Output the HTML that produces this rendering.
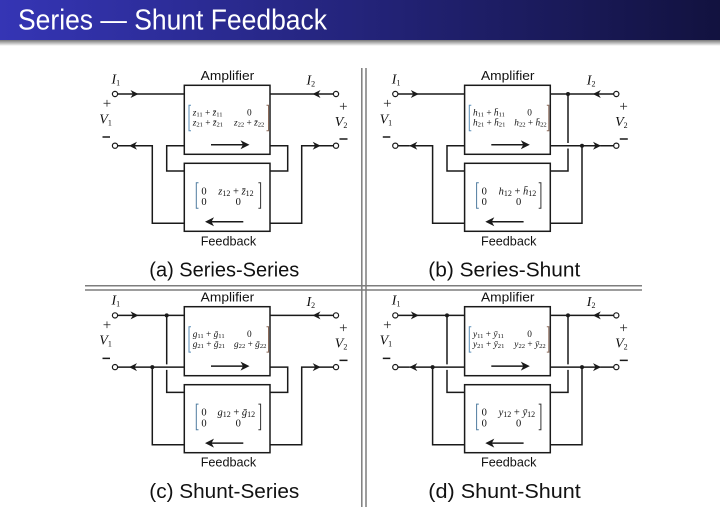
<!DOCTYPE html>
<html><head><meta charset="utf-8"><title>Series — Shunt Feedback</title>
<style>
html,body{margin:0;padding:0;background:#fff}
svg{display:block}
text{fill:#111;font-family:"Liberation Sans",sans-serif}
.m,.n,.l{font-family:"Liberation Serif",serif}
.m{font-size:9.3px}.n{font-size:10.5px}
.l{font-size:14px;font-style:italic}
.i{font-style:italic}
.s{font-size:6.6px}.t{font-size:8px}
.lab{font-size:13px}.cap{font-size:20.5px}
.w{fill:none;stroke:#1a1a1a;stroke-width:1.5}
.sep{stroke:#7d7d7d;stroke-width:1.5}
.pm{font-family:"Liberation Serif",serif;font-size:15px;fill:#222}
</style></head><body>
<svg width="720" height="514" viewBox="0 0 720 514" xmlns="http://www.w3.org/2000/svg">
<defs>
<linearGradient id="hd" x1="0" x2="1" y1="0" y2="0"><stop offset="0" stop-color="#3535b5"/><stop offset="1" stop-color="#12123f"/></linearGradient>
<linearGradient id="sh" x1="0" x2="0" y1="0" y2="1"><stop offset="0" stop-color="#777"/><stop offset="1" stop-color="#fff"/></linearGradient>
<path id="h" d="M0 0L-8 -4L-5.6 0L-8 4Z" fill="#1a1a1a"/>
<path id="H" d="M0 0L-9 -4.5L-6.5 0L-9 4.5Z" fill="#1a1a1a"/>
<g id="base">
<rect class="w" x="184.3" y="85.3" width="85.7" height="69"/>
<rect class="w" x="184.3" y="163.3" width="85.7" height="68"/>
<path class="w" d="M211 144.7H246"/><use href="#H" x="249.5" y="144.7"/>
<path class="w" d="M243.3 221.7H208"/><use href="#H" transform="translate(205,221.7) rotate(180)"/>
<path class="w" d="M117.6 94H184.3M270 94H333.4M117.6 145.7H129M320 145.7H333.4"/>
<use href="#h" x="138.5" y="94"/>
<use href="#h" transform="translate(312.5,94) rotate(180)"/>
<use href="#h" transform="translate(129,145.7) rotate(180)"/>
<use href="#h" x="320.7" y="145.7"/>
<circle cx="115" cy="94" r="2.6" fill="#fff" stroke="#1a1a1a" stroke-width="1.2"/>
<circle cx="115" cy="145.7" r="2.6" fill="#fff" stroke="#1a1a1a" stroke-width="1.2"/>
<circle cx="336" cy="94" r="2.6" fill="#fff" stroke="#1a1a1a" stroke-width="1.2"/>
<circle cx="336" cy="145.7" r="2.6" fill="#fff" stroke="#1a1a1a" stroke-width="1.2"/>
<path class="w" d="M129 145.7H152.3V223.3H184.3M270 223.3H301.7V145.7H320"/>
</g>
<g id="inSeries"><path class="w" d="M184.3 145.7H166.7V171H184.3"/></g>
<g id="outSeries"><path class="w" d="M270 145.7H287.7V171H270"/></g>
<g id="inShunt"><path class="w" d="M166.7 94V143M166.7 148.5V171H184.3M152.3 145.7H184.3"/><circle cx="166.7" cy="94" r="2" fill="#1a1a1a"/><circle cx="152.3" cy="145.7" r="2" fill="#1a1a1a"/></g>
<g id="outShunt"><path class="w" d="M287.7 94V143M287.7 148.5V171H270M270 145.7H301.7"/><circle cx="287.7" cy="94" r="2" fill="#1a1a1a"/><circle cx="301.7" cy="145.7" r="2" fill="#1a1a1a"/></g>
<g id="ba"><path fill="none" stroke="#5b8fb8" stroke-width="1" d="M191 105.3H189V130.7H191"/><path fill="none" stroke="#8a6a5a" stroke-width="1" d="M266.5 105.3H268.5V130.7H266.5"/></g>
<g id="bf"><path fill="none" stroke="#4f7c9f" stroke-width="1" d="M198.5 182.7H196.3V208.3H198.5"/><path fill="none" stroke="#333" stroke-width="1" d="M258.4 182.7H260.6V208.3H258.4"/></g>
</defs>

<rect x="0" y="0" width="720" height="40" fill="url(#hd)"/>
<rect x="0" y="40" width="720" height="6" fill="url(#sh)"/>
<text x="18" y="29.5" font-size="28.5" style="fill:#fff" textLength="309" lengthAdjust="spacingAndGlyphs">Series — Shunt Feedback</text>

<line class="sep" x1="361.8" y1="68" x2="361.8" y2="507"/>
<line class="sep" x1="366" y1="68" x2="366" y2="507"/>
<line class="sep" x1="85" y1="285.8" x2="642" y2="285.8"/>
<line class="sep" x1="85" y1="290" x2="642" y2="290"/>

<!-- (a) -->
<g>
<use href="#base"/><use href="#inSeries"/><use href="#outSeries"/><use href="#ba"/><use href="#bf"/>
<text x="111.5" y="83.3" class="l">I<tspan class="t" dy="2" font-style="normal">1</tspan></text>
<text x="306.5" y="84.7" class="l">I<tspan class="t" dy="2" font-style="normal">2</tspan></text>
<text x="99.3" y="123.3" class="l">V<tspan class="t" dy="2" font-style="normal">1</tspan></text>
<text x="334.8" y="126" class="l">V<tspan class="t" dy="2" font-style="normal">2</tspan></text>
<text x="107" y="108" class="pm" text-anchor="middle">+</text><text x="343.3" y="111" class="pm" text-anchor="middle">+</text>
<path class="w" d="M102.5 137H110M339.5 139H347.5"/>
<text x="200.7" y="80" class="lab" textLength="53.5" lengthAdjust="spacingAndGlyphs">Amplifier</text>
<text x="200.7" y="245.3" class="lab" textLength="55.5" lengthAdjust="spacingAndGlyphs">Feedback</text>
<text x="149.3" y="276.7" class="cap" textLength="150" lengthAdjust="spacingAndGlyphs">(a) Series-Series</text>
<text x="192.7" y="115.7" class="m"><tspan class="i">z</tspan><tspan class="s" dy="1">11</tspan><tspan dy="-1"> + </tspan><tspan class="i">z̄</tspan><tspan class="s" dy="1">11</tspan></text>
<text x="249.3" y="115.7" class="m" text-anchor="middle">0</text>
<text x="192.7" y="125.7" class="m"><tspan class="i">z</tspan><tspan class="s" dy="1">21</tspan><tspan dy="-1"> + </tspan><tspan class="i">z̄</tspan><tspan class="s" dy="1">21</tspan></text>
<text x="234" y="125.7" class="m"><tspan class="i">z</tspan><tspan class="s" dy="1">22</tspan><tspan dy="-1"> + </tspan><tspan class="i">z̄</tspan><tspan class="s" dy="1">22</tspan></text>
<text x="204" y="194.3" class="n" text-anchor="middle">0</text><text x="204" y="205" class="n" text-anchor="middle">0</text><text x="238.3" y="205" class="n" text-anchor="middle">0</text>
<text x="218.3" y="194.3" class="n"><tspan class="i">z</tspan><tspan class="t" dy="1.5">12</tspan><tspan dy="-1.5"> + </tspan><tspan class="i">z̄</tspan><tspan class="t" dy="1.5">12</tspan></text>
</g>

<!-- (b) -->
<g transform="translate(280.3,0)">
<use href="#base"/><use href="#inSeries"/><use href="#outShunt"/><use href="#ba"/><use href="#bf"/>
<text x="111.5" y="83.3" class="l">I<tspan class="t" dy="2" font-style="normal">1</tspan></text>
<text x="306.5" y="84.7" class="l">I<tspan class="t" dy="2" font-style="normal">2</tspan></text>
<text x="99.3" y="123.3" class="l">V<tspan class="t" dy="2" font-style="normal">1</tspan></text>
<text x="334.8" y="126" class="l">V<tspan class="t" dy="2" font-style="normal">2</tspan></text>
<text x="107" y="108" class="pm" text-anchor="middle">+</text><text x="343.3" y="111" class="pm" text-anchor="middle">+</text>
<path class="w" d="M102.5 137H110M339.5 139H347.5"/>
<text x="200.7" y="80" class="lab" textLength="53.5" lengthAdjust="spacingAndGlyphs">Amplifier</text>
<text x="200.7" y="245.3" class="lab" textLength="55.5" lengthAdjust="spacingAndGlyphs">Feedback</text>
<text x="148" y="276.7" class="cap" textLength="152" lengthAdjust="spacingAndGlyphs">(b) Series-Shunt</text>
<text x="192.7" y="115.7" class="m"><tspan class="i">h</tspan><tspan class="s" dy="1">11</tspan><tspan dy="-1"> + </tspan><tspan class="i">h̄</tspan><tspan class="s" dy="1">11</tspan></text>
<text x="249.3" y="115.7" class="m" text-anchor="middle">0</text>
<text x="192.7" y="125.7" class="m"><tspan class="i">h</tspan><tspan class="s" dy="1">21</tspan><tspan dy="-1"> + </tspan><tspan class="i">h̄</tspan><tspan class="s" dy="1">21</tspan></text>
<text x="234" y="125.7" class="m"><tspan class="i">h</tspan><tspan class="s" dy="1">22</tspan><tspan dy="-1"> + </tspan><tspan class="i">h̄</tspan><tspan class="s" dy="1">22</tspan></text>
<text x="204" y="194.3" class="n" text-anchor="middle">0</text><text x="204" y="205" class="n" text-anchor="middle">0</text><text x="238.3" y="205" class="n" text-anchor="middle">0</text>
<text x="218.3" y="194.3" class="n"><tspan class="i">h</tspan><tspan class="t" dy="1.5">12</tspan><tspan dy="-1.5"> + </tspan><tspan class="i">h̄</tspan><tspan class="t" dy="1.5">12</tspan></text>
</g>

<!-- (c) -->
<g transform="translate(0,221.4)">
<use href="#base"/><use href="#inShunt"/><use href="#outSeries"/><use href="#ba"/><use href="#bf"/>
<text x="111.5" y="83.3" class="l">I<tspan class="t" dy="2" font-style="normal">1</tspan></text>
<text x="306.5" y="84.7" class="l">I<tspan class="t" dy="2" font-style="normal">2</tspan></text>
<text x="99.3" y="123.3" class="l">V<tspan class="t" dy="2" font-style="normal">1</tspan></text>
<text x="334.8" y="126" class="l">V<tspan class="t" dy="2" font-style="normal">2</tspan></text>
<text x="107" y="108" class="pm" text-anchor="middle">+</text><text x="343.3" y="111" class="pm" text-anchor="middle">+</text>
<path class="w" d="M102.5 137H110M339.5 139H347.5"/>
<text x="200.7" y="80" class="lab" textLength="53.5" lengthAdjust="spacingAndGlyphs">Amplifier</text>
<text x="200.7" y="245.3" class="lab" textLength="55.5" lengthAdjust="spacingAndGlyphs">Feedback</text>
<text x="149.3" y="276.7" class="cap" textLength="150" lengthAdjust="spacingAndGlyphs">(c) Shunt-Series</text>
<text x="192.7" y="115.7" class="m"><tspan class="i">g</tspan><tspan class="s" dy="1">11</tspan><tspan dy="-1"> + </tspan><tspan class="i">ḡ</tspan><tspan class="s" dy="1">11</tspan></text>
<text x="249.3" y="115.7" class="m" text-anchor="middle">0</text>
<text x="192.7" y="125.7" class="m"><tspan class="i">g</tspan><tspan class="s" dy="1">21</tspan><tspan dy="-1"> + </tspan><tspan class="i">ḡ</tspan><tspan class="s" dy="1">21</tspan></text>
<text x="234" y="125.7" class="m"><tspan class="i">g</tspan><tspan class="s" dy="1">22</tspan><tspan dy="-1"> + </tspan><tspan class="i">ḡ</tspan><tspan class="s" dy="1">22</tspan></text>
<text x="204" y="194.3" class="n" text-anchor="middle">0</text><text x="204" y="205" class="n" text-anchor="middle">0</text><text x="238.3" y="205" class="n" text-anchor="middle">0</text>
<text x="217.5" y="194.3" class="n"><tspan class="i">g</tspan><tspan class="t" dy="1.5">12</tspan><tspan dy="-1.5"> + </tspan><tspan class="i">ḡ</tspan><tspan class="t" dy="1.5">12</tspan></text>
</g>

<!-- (d) -->
<g transform="translate(280.3,221.4)">
<use href="#base"/><use href="#inShunt"/><use href="#outShunt"/><use href="#ba"/><use href="#bf"/>
<text x="111.5" y="83.3" class="l">I<tspan class="t" dy="2" font-style="normal">1</tspan></text>
<text x="306.5" y="84.7" class="l">I<tspan class="t" dy="2" font-style="normal">2</tspan></text>
<text x="99.3" y="123.3" class="l">V<tspan class="t" dy="2" font-style="normal">1</tspan></text>
<text x="334.8" y="126" class="l">V<tspan class="t" dy="2" font-style="normal">2</tspan></text>
<text x="107" y="108" class="pm" text-anchor="middle">+</text><text x="343.3" y="111" class="pm" text-anchor="middle">+</text>
<path class="w" d="M102.5 137H110M339.5 139H347.5"/>
<text x="200.7" y="80" class="lab" textLength="53.5" lengthAdjust="spacingAndGlyphs">Amplifier</text>
<text x="200.7" y="245.3" class="lab" textLength="55.5" lengthAdjust="spacingAndGlyphs">Feedback</text>
<text x="148" y="276.7" class="cap" textLength="152.5" lengthAdjust="spacingAndGlyphs">(d) Shunt-Shunt</text>
<text x="192.7" y="115.7" class="m"><tspan class="i">y</tspan><tspan class="s" dy="1">11</tspan><tspan dy="-1"> + </tspan><tspan class="i">ȳ</tspan><tspan class="s" dy="1">11</tspan></text>
<text x="249.3" y="115.7" class="m" text-anchor="middle">0</text>
<text x="192.7" y="125.7" class="m"><tspan class="i">y</tspan><tspan class="s" dy="1">21</tspan><tspan dy="-1"> + </tspan><tspan class="i">ȳ</tspan><tspan class="s" dy="1">21</tspan></text>
<text x="234" y="125.7" class="m"><tspan class="i">y</tspan><tspan class="s" dy="1">22</tspan><tspan dy="-1"> + </tspan><tspan class="i">ȳ</tspan><tspan class="s" dy="1">22</tspan></text>
<text x="204" y="194.3" class="n" text-anchor="middle">0</text><text x="204" y="205" class="n" text-anchor="middle">0</text><text x="238.3" y="205" class="n" text-anchor="middle">0</text>
<text x="218.3" y="194.3" class="n"><tspan class="i">y</tspan><tspan class="t" dy="1.5">12</tspan><tspan dy="-1.5"> + </tspan><tspan class="i">ȳ</tspan><tspan class="t" dy="1.5">12</tspan></text>
</g>
</svg>
</body></html>
